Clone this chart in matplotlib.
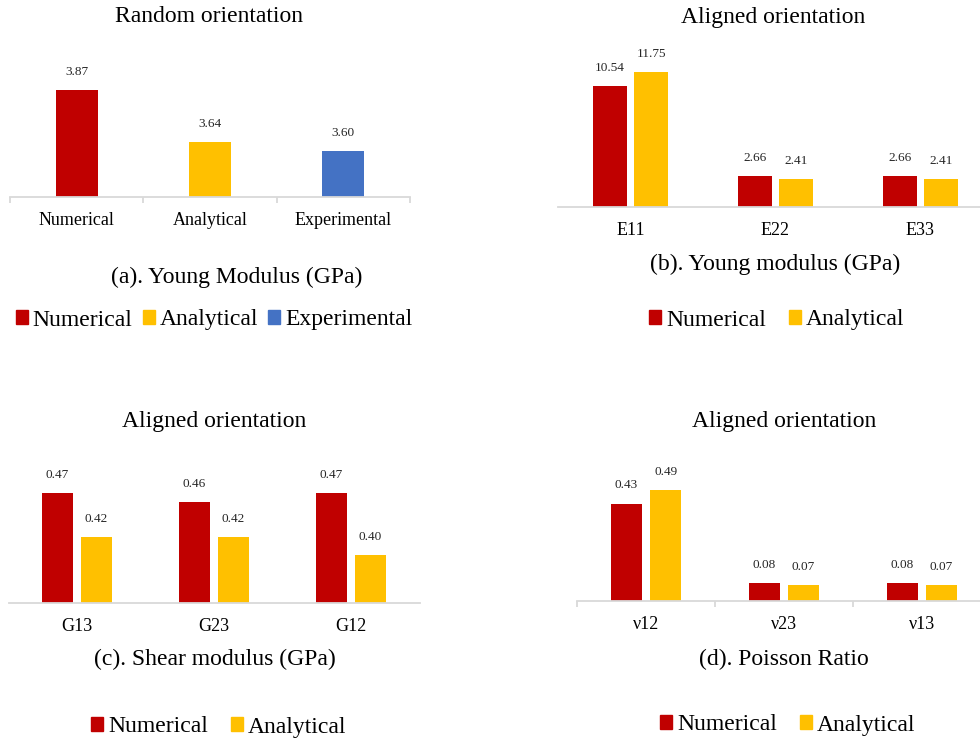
import matplotlib
matplotlib.use('Agg')
import matplotlib.pyplot as plt
from matplotlib.patches import Patch

plt.rcParams['font.family'] = ['Liberation Serif', 'DejaVu Serif']

RED = '#C00000'
YELLOW = '#FFC000'
BLUE = '#4472C4'
AXIS = '#D9D9D9'

W, H = 980, 740

# (a) random orientation, Young modulus
rand_labels = ['Numerical', 'Analytical', 'Experimental']
rand_values = [3.87, 3.64, 3.60]

# (b) aligned orientation, Young modulus
young_labels = ['E11', 'E22', 'E33']
young_num = [10.54, 2.66, 2.66]
young_ana = [11.75, 2.41, 2.41]

# (c) aligned orientation, shear modulus
shear_labels = ['G13', 'G23', 'G12']
shear_num = [0.47, 0.46, 0.47]
shear_ana = [0.42, 0.42, 0.40]

# (d) aligned orientation, Poisson ratio
poisson_labels = ['ν12', 'ν23', 'ν13']
poisson_num = [0.43, 0.08, 0.08]
poisson_ana = [0.49, 0.07, 0.07]


def px_axes(fig, left, right, top, bottom):
    # axes placed in pixel coords (origin top-left)
    return fig.add_axes([left / W, 1 - bottom / H, (right - left) / W, (bottom - top) / H])


def style_axes(ax, labels, ticks=False):
    for s in ['top', 'right', 'left']:
        ax.spines[s].set_visible(False)
    ax.spines['bottom'].set_color(AXIS)
    ax.spines['bottom'].set_linewidth(1.3)
    ax.set_yticks([])
    ax.set_xticks(range(len(labels)))
    ax.set_xticklabels(labels, fontsize=13)
    ax.tick_params(axis='x', length=0, pad=11)
    ax.set_xlim(-0.5, len(labels) - 0.5)
    if ticks:
        ax.set_xticks([i - 0.5 for i in range(len(labels) + 1)], minor=True)
        ax.tick_params(axis='x', which='minor', length=4.5, color=AXIS, width=1.3)
    ax.patch.set_visible(False)


def label_bars(ax, bars):
    for b in bars:
        ax.annotate(f'{b.get_height():.2f}', (b.get_x() + b.get_width() / 2, b.get_height()),
                    xytext=(0, 13), textcoords='offset points',
                    ha='center', va='center', fontsize=9.5, color='#262626')


def pair_bars(ax, num, ana):
    x = range(len(num))
    b1 = ax.bar([i - 0.142 for i in x], num, width=0.23, color=RED)
    b2 = ax.bar([i + 0.142 for i in x], ana, width=0.23, color=YELLOW)
    label_bars(ax, b1)
    label_bars(ax, b2)


def ftext(fig, x, y, s, size=17):
    fig.text(x / W, 1 - y / H, s, ha='center', va='center', fontsize=size)


def legend(fig, x, y, names, colors, spacing):
    handles = [Patch(color=c) for c in colors]
    fig.legend(handles, names, loc='center', bbox_to_anchor=(x / W, 1 - y / H),
               ncol=len(names), frameon=False, fontsize=17,
               handlelength=0.5, handleheight=0.5, handletextpad=0.2,
               columnspacing=spacing, borderpad=0, borderaxespad=0)


fig = plt.figure(figsize=(9.8, 7.4), dpi=100)

# (a)
ax = px_axes(fig, 10, 410, 60, 197)
bars = ax.bar(range(3), rand_values, width=0.315, color=[RED, YELLOW, BLUE])
label_bars(ax, bars)
ax.set_ylim(3.4, 4.0)
style_axes(ax, rand_labels, ticks=True)
ftext(fig, 209, 17, 'Random orientation')
ftext(fig, 237, 277, '(a). Young Modulus (GPa)')
legend(fig, 214, 320, ['Numerical', 'Analytical', 'Experimental'], [RED, YELLOW, BLUE], 0.45)

# (b)
ax = px_axes(fig, 558, 993, 46, 207)
pair_bars(ax, young_num, young_ana)
ax.set_ylim(0, 14)
style_axes(ax, young_labels)
ftext(fig, 773, 17, 'Aligned orientation')
ftext(fig, 775, 264, '(b). Young modulus (GPa)')
legend(fig, 777, 320, ['Numerical', 'Analytical'], [RED, YELLOW], 1.0)

# (c)
ax = px_axes(fig, 8.5, 419.5, 467, 603)
pair_bars(ax, shear_num, shear_ana)
ax.set_ylim(0.345, 0.5)
style_axes(ax, shear_labels)
ftext(fig, 214, 421, 'Aligned orientation')
ftext(fig, 214.5, 659, '(c). Shear modulus (GPa)')
legend(fig, 219, 727, ['Numerical', 'Analytical'], [RED, YELLOW], 1.0)

# (d)
ax = px_axes(fig, 577, 991, 465, 601)
pair_bars(ax, poisson_num, poisson_ana)
ax.set_ylim(0, 0.6)
style_axes(ax, poisson_labels, ticks=True)
ftext(fig, 784, 421, 'Aligned orientation')
ftext(fig, 784, 659, '(d). Poisson Ratio')
legend(fig, 788, 725, ['Numerical', 'Analytical'], [RED, YELLOW], 1.0)

fig.savefig('out.png', dpi=100)
